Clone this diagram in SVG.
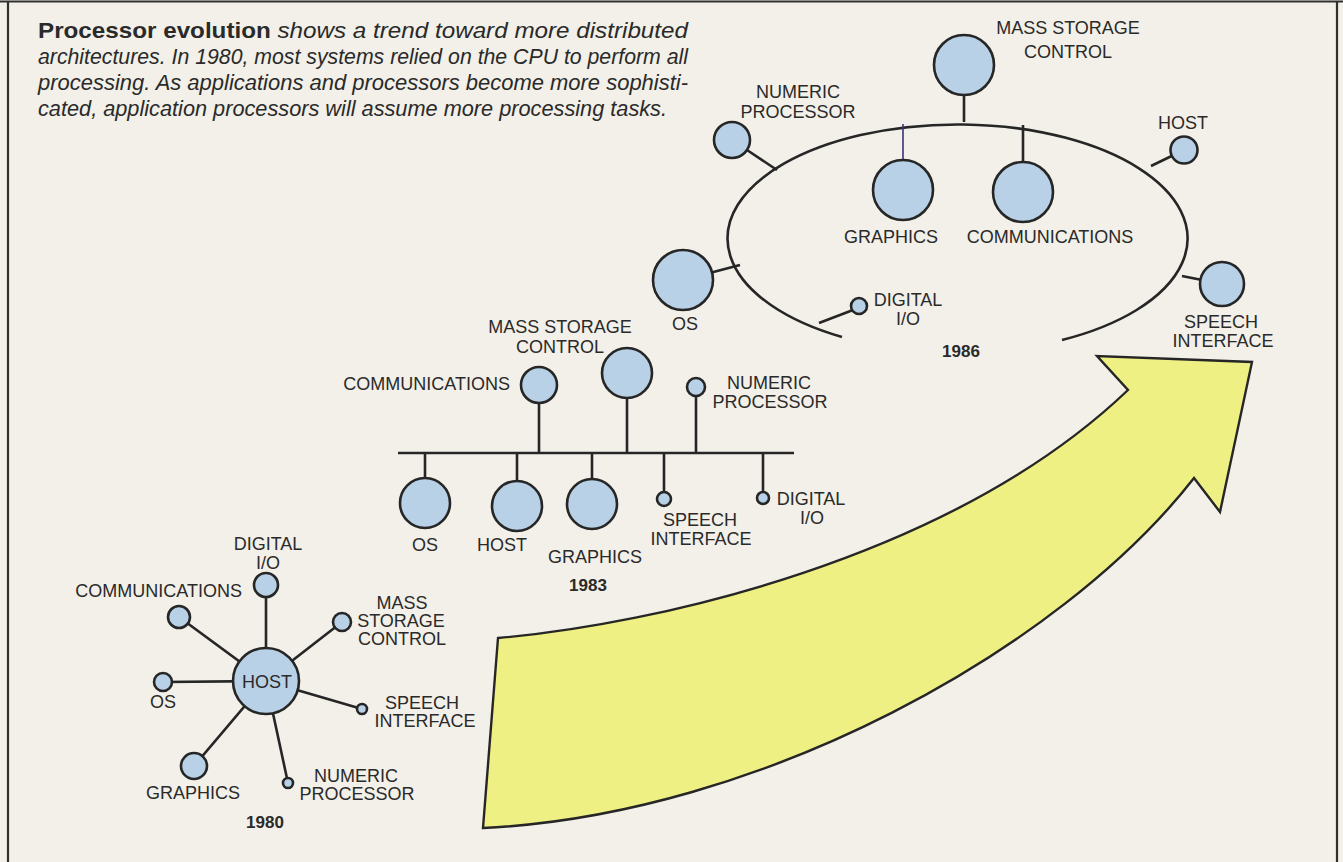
<svg xmlns="http://www.w3.org/2000/svg" width="1343" height="862" viewBox="0 0 1343 862">
  <style>
    .lbl { font-family: "Liberation Sans", Arial, sans-serif; font-size: 18px; fill: #2a2a2a; text-anchor: middle; }
    .end { text-anchor: end; }
    .yr { font-weight: bold; font-size: 17px; }
    .cap { font-family: "Liberation Sans", Arial, sans-serif; font-size: 21.5px; fill: #2a2a2a; font-style: italic; }
    .capb { font-style: normal; font-weight: bold; }
    .node { fill: #b8d1e7; stroke: #262626; stroke-width: 2.6; }
    .wire { stroke: #262626; stroke-width: 2.6; fill: none; }
    .thin { stroke: #3d3278; stroke-width: 1.6; }
    .frame { stroke: #303030; stroke-width: 2.2; fill: none; }
    .arrow { fill: #eff084; stroke: #262626; stroke-width: 2.4; stroke-linejoin: miter; }
  </style>

  <!-- page -->
  <rect x="0" y="0" width="1343" height="862" fill="#f2f0e8"/>
  <path class="frame" d="M0 1.5 H1343 M8 1.5 V862 M1337 1.5 V862"/>

  <!-- caption -->
  <g id="caption">
    <text class="cap" x="38" y="38" textLength="650" lengthAdjust="spacingAndGlyphs"><tspan class="capb">Processor evolution</tspan> shows a trend toward more distributed</text>
    <text class="cap" x="38" y="64" textLength="650" lengthAdjust="spacingAndGlyphs">architectures. In 1980, most systems relied on the CPU to perform all</text>
    <text class="cap" x="38" y="90" textLength="650" lengthAdjust="spacingAndGlyphs">processing. As applications and processors become more sophisti-</text>
    <text class="cap" x="38" y="116" textLength="629" lengthAdjust="spacingAndGlyphs">cated, application processors will assume more processing tasks.</text>
  </g>

  <!-- growth arrow from 1980 up to 1986 -->
  <g id="trend-arrow">
    <path class="arrow" d="M498 638 C650 625 950 560 1128 390 L1097 356 L1252 362 L1220 512 L1194 478 C1060 650 760 815 483 828 Z"/>
  </g>

  <!-- connectors -->
  <g id="connectors">
    <!-- 1980 star -->
    <path class="wire" d="M266 681 L266 585 M266 681 L179 617 M266 681 L342 622 M266 681 L163 682 M266 681 L362 709 M266 681 L194 766 M266 681 L288 783"/>
    <!-- 1983 bus -->
    <path class="wire" d="M398 453 H794 M539 385 V453 M627 373 V453 M696 387 V453 M425 453 V503 M517 453 V506 M592 453 V504 M664 453 V499 M763 453 V498"/>
    <!-- 1986 ring -->
    <path class="wire" d="M842 337 A230 114 0 1 1 1062 340"/>
    <path class="wire" d="M964 95 V122 M1023 125 V162 M747 150 L777 170 M683 280 L740 265 M853 310 L819 323 M1184 150 L1151 166 M1182 276 L1222 284"/>
    <path class="wire thin" d="M903 124 V160"/>
  </g>

  <!-- 1980 nodes -->
  <g id="host-1980"><circle class="node" cx="266" cy="681" r="33"/><text class="lbl" x="267" y="688">HOST</text></g>
  <g id="digital-io-1980"><circle class="node" cx="266" cy="585" r="12"/><text class="lbl" x="268" y="550">DIGITAL</text><text class="lbl" x="268" y="569">I/O</text></g>
  <g id="communications-1980"><circle class="node" cx="179" cy="617" r="11"/><text class="lbl end" x="242" y="597">COMMUNICATIONS</text></g>
  <g id="mass-storage-1980"><circle class="node" cx="342" cy="622" r="9"/><text class="lbl" x="402" y="609">MASS</text><text class="lbl" x="401" y="627">STORAGE</text><text class="lbl" x="402" y="645">CONTROL</text></g>
  <g id="os-1980"><circle class="node" cx="163" cy="682" r="9"/><text class="lbl" x="163" y="708">OS</text></g>
  <g id="speech-1980"><circle class="node" cx="362" cy="709" r="5"/><text class="lbl" x="422" y="709">SPEECH</text><text class="lbl" x="425" y="727">INTERFACE</text></g>
  <g id="graphics-1980"><circle class="node" cx="194" cy="766" r="13"/><text class="lbl" x="193" y="799">GRAPHICS</text></g>
  <g id="numeric-1980"><circle class="node" cx="288" cy="783" r="5"/><text class="lbl" x="356" y="782">NUMERIC</text><text class="lbl" x="357" y="800">PROCESSOR</text></g>
  <text class="lbl yr" x="265" y="828">1980</text>

  <!-- 1983 nodes -->
  <g id="communications-1983"><circle class="node" cx="539" cy="385" r="18"/><text class="lbl end" x="510" y="390">COMMUNICATIONS</text></g>
  <g id="mass-storage-1983"><circle class="node" cx="627" cy="373" r="25"/><text class="lbl" x="560" y="333">MASS STORAGE</text><text class="lbl" x="560" y="353">CONTROL</text></g>
  <g id="numeric-1983"><circle class="node" cx="696" cy="387" r="9"/><text class="lbl" x="769" y="389">NUMERIC</text><text class="lbl" x="770" y="408">PROCESSOR</text></g>
  <g id="os-1983"><circle class="node" cx="425" cy="503" r="25"/><text class="lbl" x="425" y="551">OS</text></g>
  <g id="host-1983"><circle class="node" cx="517" cy="506" r="25"/><text class="lbl" x="502" y="551">HOST</text></g>
  <g id="graphics-1983"><circle class="node" cx="592" cy="504" r="25"/><text class="lbl" x="595" y="563">GRAPHICS</text></g>
  <g id="speech-1983"><circle class="node" cx="664" cy="499" r="7"/><text class="lbl" x="700" y="526">SPEECH</text><text class="lbl" x="701" y="545">INTERFACE</text></g>
  <g id="digital-io-1983"><circle class="node" cx="763" cy="498" r="6"/><text class="lbl" x="811" y="505">DIGITAL</text><text class="lbl" x="812" y="524">I/O</text></g>
  <text class="lbl yr" x="588" y="591">1983</text>

  <!-- 1986 nodes -->
  <g id="mass-storage-1986"><circle class="node" cx="964" cy="65" r="30"/><text class="lbl" x="1068" y="34">MASS STORAGE</text><text class="lbl" x="1068" y="58">CONTROL</text></g>
  <g id="numeric-1986"><circle class="node" cx="732" cy="140" r="18"/><text class="lbl" x="798" y="98">NUMERIC</text><text class="lbl" x="798" y="118">PROCESSOR</text></g>
  <g id="graphics-1986"><circle class="node" cx="903" cy="190" r="30"/><text class="lbl" x="891" y="243">GRAPHICS</text></g>
  <g id="communications-1986"><circle class="node" cx="1023" cy="192" r="30"/><text class="lbl" x="1050" y="243">COMMUNICATIONS</text></g>
  <g id="host-1986"><circle class="node" cx="1184" cy="150" r="13.5"/><text class="lbl" x="1183" y="129">HOST</text></g>
  <g id="os-1986"><circle class="node" cx="683" cy="280" r="30"/><text class="lbl" x="685" y="330">OS</text></g>
  <g id="digital-io-1986"><circle class="node" cx="859" cy="306" r="8"/><text class="lbl" x="908" y="306">DIGITAL</text><text class="lbl" x="908" y="325">I/O</text></g>
  <g id="speech-1986"><circle class="node" cx="1222" cy="284" r="22"/><text class="lbl" x="1221" y="328">SPEECH</text><text class="lbl" x="1223" y="347">INTERFACE</text></g>
  <text class="lbl yr" x="961" y="357">1986</text>
</svg>
